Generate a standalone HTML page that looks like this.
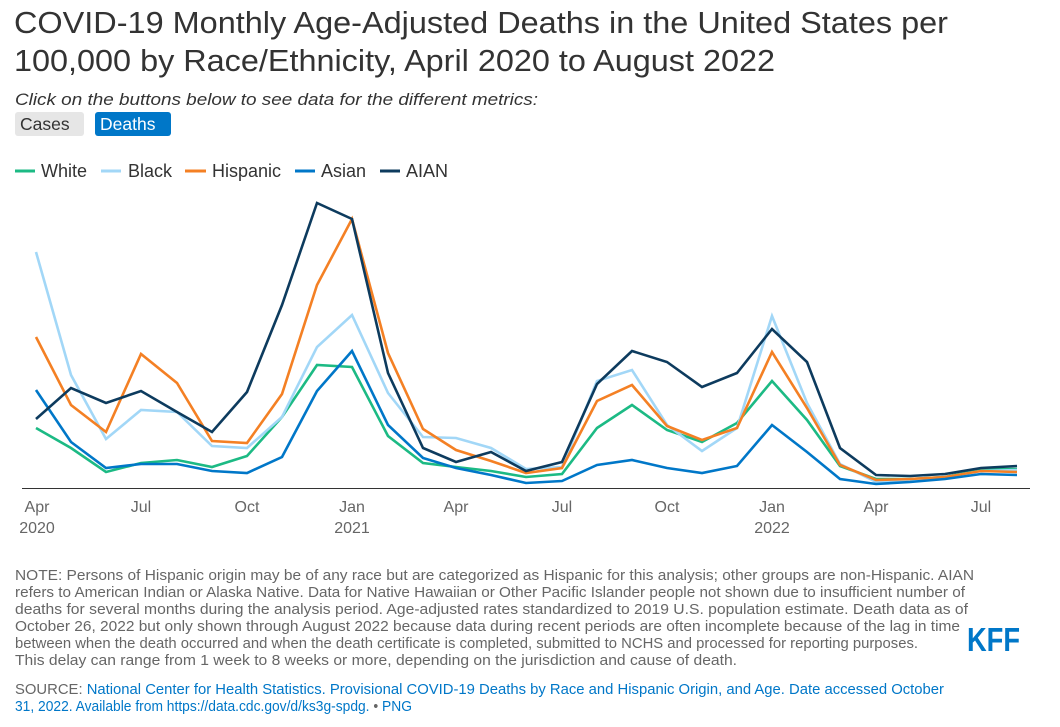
<!DOCTYPE html>
<html><head><meta charset="utf-8"><style>
body{margin:0;background:#fff;width:1060px;height:722px;overflow:hidden;font-family:"Liberation Sans",Arial,sans-serif}
</style></head><body>
<svg width="1060" height="722" xmlns="http://www.w3.org/2000/svg" font-family="Liberation Sans, Arial, sans-serif">
<text x="14" y="33" font-size="31" fill="#333" textLength="934" lengthAdjust="spacingAndGlyphs">COVID-19 Monthly Age-Adjusted Deaths in the United States per</text>
<text x="14" y="71" font-size="31" fill="#333" textLength="761" lengthAdjust="spacingAndGlyphs">100,000 by Race/Ethnicity, April 2020 to August 2022</text>
<text x="15" y="105" font-size="17" font-style="italic" fill="#333" textLength="523" lengthAdjust="spacingAndGlyphs">Click on the buttons below to see data for the different metrics:</text>
<rect x="15" y="112" width="69" height="24" rx="3" fill="#e6e6e6"/>
<text x="20" y="130" font-size="17.5" fill="#333">Cases</text>
<rect x="95" y="112" width="76" height="24" rx="3" fill="#0077c8"/>
<text x="100" y="130" font-size="17.5" fill="#fff">Deaths</text>
<g font-size="18" fill="#333">
<line x1="15" y1="171" x2="35" y2="171" stroke="#1cba84" stroke-width="3"/><text x="41" y="177">White</text>
<line x1="101" y1="171" x2="121" y2="171" stroke="#a2d7f7" stroke-width="3"/><text x="128" y="177">Black</text>
<line x1="185" y1="171" x2="206" y2="171" stroke="#f48024" stroke-width="3"/><text x="212" y="177">Hispanic</text>
<line x1="295" y1="171" x2="315" y2="171" stroke="#0077c8" stroke-width="3"/><text x="321" y="177">Asian</text>
<line x1="380" y1="171" x2="400" y2="171" stroke="#0d3b5e" stroke-width="3"/><text x="406" y="177">AIAN</text>
</g>
<line x1="22" y1="488.5" x2="1030" y2="488.5" stroke="#333" stroke-width="1"/>
<g fill="none" stroke-width="2.6" stroke-linejoin="miter">
<polyline stroke="#1cba84" points="36,428 71,448 106,472 141,463 177,460 212,467 247,456 282,417 317,365 352,367 388,436 423,463 456,467 491,471 526,477 562,474 597,428 632,405 667,430 702,442 737,423 772,381 807,420 840,466 876,479 910,479 945,477 981,469 1017,469"/>
<polyline stroke="#a2d7f7" points="36,252 71,375 106,439 141,410 177,412 212,446 247,448 282,417 317,347 352,315 388,393 423,437 456,438 491,448 526,469 562,467 597,381 632,370 667,425 702,451 737,428 772,316 807,403 840,464 876,482 910,481 945,477 981,471 1017,470"/>
<polyline stroke="#f48024" points="36,337 71,405 106,432 141,354 177,383 212,441 247,443 282,394 317,285 352,219 388,353 423,429 456,450 491,461 526,473 562,468 597,401 632,385 667,426 702,440 737,428 772,352 807,408 840,465 876,480 910,479 945,477 981,471 1017,472"/>
<polyline stroke="#0077c8" points="36,390 71,442 106,468 141,464 177,464 212,471 247,473 282,457 317,391 352,351 388,425 423,458 456,468 491,475 526,483 562,481 597,465 632,460 667,468 702,473 737,466 772,425 807,452 840,479 876,484 910,482 945,479 981,474 1017,475"/>
<polyline stroke="#0d3b5e" points="36,419 71,388 106,403 141,391 177,412 212,432 247,392 282,305 317,203 352,219 388,373 423,448 456,462 491,452 526,471 562,462 597,384 632,351 667,362 702,387 737,373 772,329 807,362 840,448 876,475 910,476 945,474 981,468 1017,466"/>
</g>
<g font-size="16" fill="#666" text-anchor="middle">
<text x="37" y="512">Apr</text><text x="37" y="533">2020</text>
<text x="141" y="512">Jul</text>
<text x="247" y="512">Oct</text>
<text x="352" y="512">Jan</text><text x="352" y="533">2021</text>
<text x="456" y="512">Apr</text>
<text x="562" y="512">Jul</text>
<text x="667" y="512">Oct</text>
<text x="772" y="512">Jan</text><text x="772" y="533">2022</text>
<text x="876" y="512">Apr</text>
<text x="981" y="512">Jul</text>
</g>
<g font-size="15" fill="#666" lengthAdjust="spacingAndGlyphs">
<text x="15" y="580" textLength="959" lengthAdjust="spacingAndGlyphs">NOTE: Persons of Hispanic origin may be of any race but are categorized as Hispanic for this analysis; other groups are non-Hispanic. AIAN</text>
<text x="15" y="597" textLength="950" lengthAdjust="spacingAndGlyphs">refers to American Indian or Alaska Native. Data for Native Hawaiian or Other Pacific Islander people not shown due to insufficient number of</text>
<text x="15" y="614" textLength="953" lengthAdjust="spacingAndGlyphs">deaths for several months during the analysis period. Age-adjusted rates standardized to 2019 U.S. population estimate. Death data as of</text>
<text x="15" y="631" textLength="945" lengthAdjust="spacingAndGlyphs">October 26, 2022 but only shown through August 2022 because data during recent periods are often incomplete because of the lag in time</text>
<text x="15" y="648" textLength="903" lengthAdjust="spacingAndGlyphs">between when the death occurred and when the death certificate is completed, submitted to NCHS and processed for reporting purposes.</text>
<text x="15" y="665" textLength="722" lengthAdjust="spacingAndGlyphs">This delay can range from 1 week to 8 weeks or more, depending on the jurisdiction and cause of death.</text>
<text x="15" y="694" textLength="929" lengthAdjust="spacingAndGlyphs">SOURCE: <tspan fill="#0077c8">National Center for Health Statistics. Provisional COVID-19 Deaths by Race and Hispanic Origin, and Age. Date accessed October</tspan></text>
<text x="15" y="711" fill="#0077c8" textLength="397" lengthAdjust="spacingAndGlyphs">31, 2022. Available from https://data.cdc.gov/d/ks3g-spdg. <tspan fill="#666">•</tspan> PNG</text>
</g>
<text x="967" y="651" font-size="33" font-weight="bold" fill="#0077c8" textLength="53" lengthAdjust="spacingAndGlyphs">KFF</text>
</svg>
</body></html>
